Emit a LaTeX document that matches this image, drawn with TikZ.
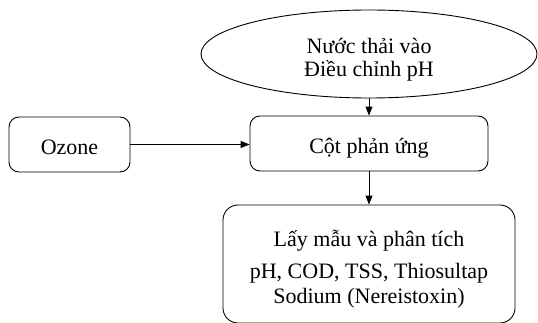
\documentclass[tikz,border=0pt]{standalone}
\usepackage{fontspec}
\setmainfont{Liberation Serif}
\usetikzlibrary{arrows.meta,shapes.geometric}
\begin{document}
\begin{tikzpicture}[x=1pt,y=1pt,
  every node/.style={font=\fontsize{22}{23}\selectfont, align=center, line width=0.9pt, inner sep=0pt},
  boxed/.style={draw, rounded corners=10pt},
  oneline/.style={text height=19pt, text depth=0pt},
  conn/.style={line width=0.9pt, -{Triangle[length=9pt,width=7pt]}}]
\useasboundingbox (0,0) rectangle (538,322);
\node[draw, ellipse, minimum width=336pt, minimum height=88pt] (water) at (369,268) {\rule{0pt}{27pt}Nước thải vào\\Điều chỉnh pH};
\node[boxed, oneline, minimum width=238pt, minimum height=55pt] (col) at (369,178.5) {Cột phản ứng};
\node[boxed, oneline, minimum width=121pt, minimum height=55pt] (oz) at (69.5,177.5) {Ozone};
\node[boxed, rounded corners=15pt, minimum width=292pt, minimum height=118pt, font=\fontsize{22}{25}\selectfont] (ana) at (369,58) {\rule{0pt}{27pt}Lấy mẫu và phân tích\\[7pt]pH, COD, TSS, Thiosultap\\Sodium (Nereistoxin)};
\draw[conn] (water.south) -- (col.north);
\draw[conn] (oz.east) -- (col.west |- oz.east);
\draw[conn] (col.south) -- (ana.north);
\end{tikzpicture}
\end{document}
